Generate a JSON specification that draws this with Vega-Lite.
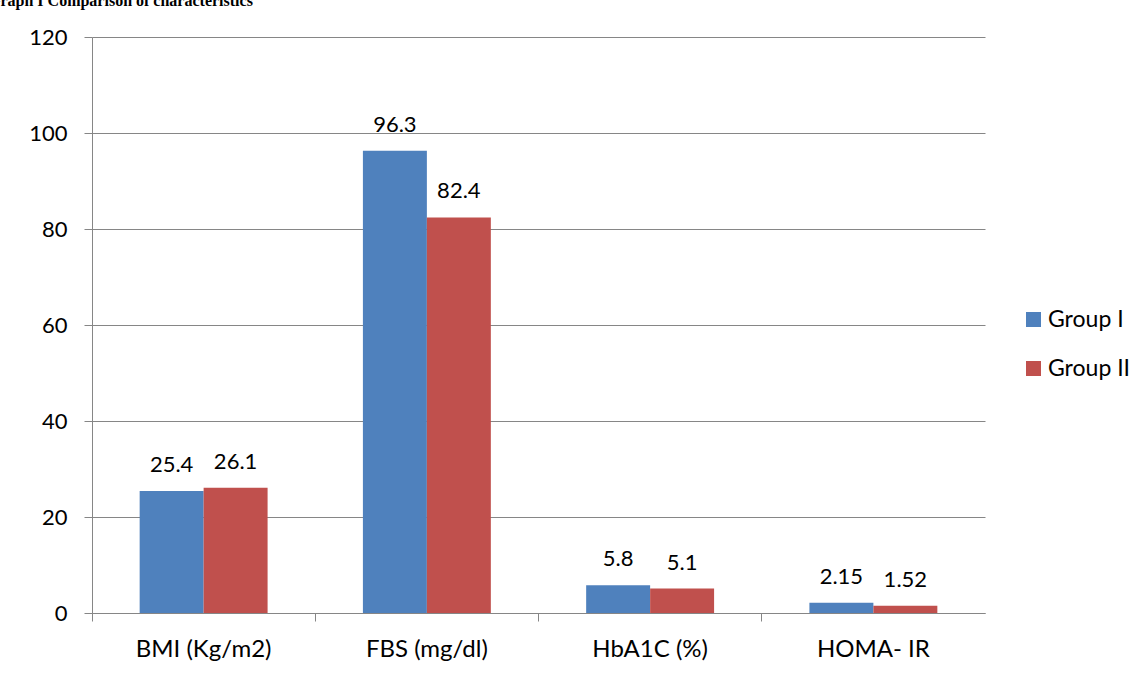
{
  "$schema": "https://vega.github.io/schema/vega-lite/v6.json",
  "width": 893,
  "height": 576,
  "autosize": {"type": "none"},
  "padding": {"left": 92, "top": 37, "right": 163, "bottom": 60},
  "background": "white",
  "title": {
    "text": "Graph I Comparison of characteristics",
    "anchor": "start",
    "frame": "group",
    "font": "Liberation Serif",
    "fontWeight": "bold",
    "fontSize": 16,
    "color": "black",
    "offset": 21,
    "dx": -104,
    "dy": 17,
    "baseline": "alphabetic"
  },
  "config": {
    "view": {"stroke": null},
    "font": "Lato"
  },
  "data": {
    "values": [
      {"measure": "BMI (Kg/m2)", "group": "Group I", "value": 25.4},
      {"measure": "BMI (Kg/m2)", "group": "Group II", "value": 26.1},
      {"measure": "FBS (mg/dl)", "group": "Group I", "value": 96.3},
      {"measure": "FBS (mg/dl)", "group": "Group II", "value": 82.4},
      {"measure": "HbA1C (%)", "group": "Group I", "value": 5.8},
      {"measure": "HbA1C (%)", "group": "Group II", "value": 5.1},
      {"measure": "HOMA- IR", "group": "Group I", "value": 2.15},
      {"measure": "HOMA- IR", "group": "Group II", "value": 1.52}
    ]
  },
  "encoding": {
    "x": {
      "field": "measure",
      "type": "nominal",
      "sort": ["BMI (Kg/m2)", "FBS (mg/dl)", "HbA1C (%)", "HOMA- IR"],
      "scale": {"paddingInner": 0, "paddingOuter": 0},
      "axis": {
        "title": null,
        "bandPosition": 0,
        "grid": false,
        "labelAngle": 0,
        "tickSize": 8,
        "tickColor": "#868686",
        "domainColor": "#868686",
        "labelFontSize": 24,
        "labelColor": "black",
        "labelBaseline": "alphabetic",
        "labelPadding": 35,
        "labelFont": "Lato"
      }
    },
    "xOffset": {
      "field": "group",
      "type": "nominal",
      "scale": {"paddingInner": 0, "paddingOuter": 0.745}
    },
    "y": {
      "field": "value",
      "type": "quantitative",
      "scale": {"domain": [0, 120], "nice": false},
      "axis": {
        "title": null,
        "values": [0, 20, 40, 60, 80, 100, 120],
        "grid": true,
        "gridColor": "#868686",
        "tickColor": "#868686",
        "domainColor": "#868686",
        "tickSize": 8,
        "labelPadding": 17,
        "labelFontSize": 22,
        "labelColor": "black",
        "labelFont": "Lato"
      }
    }
  },
  "layer": [
    {
      "mark": {"type": "bar"},
      "encoding": {
        "color": {
          "field": "group",
          "type": "nominal",
          "scale": {"domain": ["Group I", "Group II"], "range": ["#4F81BD", "#C0504D"]},
          "legend": {
            "title": null,
            "orient": "none",
            "legendX": 930,
            "legendY": 271,
            "symbolType": "square",
            "symbolSize": 225,
            "symbolStrokeWidth": 0,
            "labelFontSize": 23,
            "labelFont": "Lato",
            "labelColor": "black",
            "labelOffset": 3,
            "rowPadding": 25,
            "padding": 0
          }
        }
      }
    },
    {
      "mark": {"type": "text", "baseline": "alphabetic", "align": "center", "dy": -19, "fontSize": 22, "font": "Lato", "color": "black"},
      "encoding": {
        "text": {"field": "value", "type": "nominal"}
      }
    }
  ]
}
